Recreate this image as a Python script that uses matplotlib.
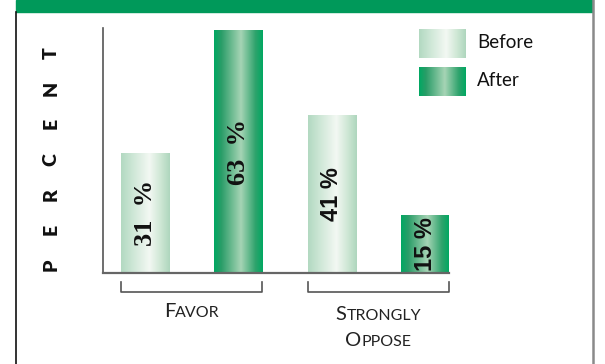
"""Favor / Strongly Oppose, before and after: green gradient bar chart."""

import matplotlib
matplotlib.use("Agg")
import matplotlib.pyplot as plt
import numpy as np
from matplotlib.colors import LinearSegmentedColormap
from matplotlib.lines import Line2D
from matplotlib.patches import Rectangle
from matplotlib.transforms import blended_transform_factory, offset_copy

# data
groups = [["Favor"], ["Strongly", "Oppose"]]
series = ["Before", "After"]
before = [31, 41]
after = [63, 15]

# style
W, H = 605, 364
BAND = "#00995a"
group_fonts = ["Liberation Serif", "Liberation Sans"]
group_sizes = [19, 17]
group_fmt = ["{}  %", "{} %"]
grad_before = LinearSegmentedColormap.from_list(
    "before", [(0, "#b2d9c1"), (0.3, "#d4eadb"), (0.58, "#f3f8f3"), (0.8, "#d0e8d6"), (1, "#aed6bd")])
grad_after = LinearSegmentedColormap.from_list(
    "after", [(0, "#00a862"), (0.15, "#2a9d68"), (0.55, "#a6d4b5"), (0.85, "#2ea36c"), (1, "#00a862")])
cmaps = [grad_before, grad_after]


def fig_rect(x0, y0, x1, y1):
    """Pixel box (top-left origin) -> figure fraction rect."""
    return [x0 / W, 1 - y1 / H, (x1 - x0) / W, (y1 - y0) / H]


def gradient(cmap):
    return cmap(np.linspace(0, 1, 256))[np.newaxis, :, :]


def smallcaps(ax, x, y, word, trans, big=14.5, small=11.5):
    """Centre a small-caps word at (x, y), baseline aligned."""
    renderer = ax.figure.canvas.get_renderer()
    pieces = [(word[0].upper(), big), (word[1:].upper(), small)]
    texts, widths = [], []
    for s, size in pieces:
        t = ax.text(x, y, s, fontsize=size, family="Lato", color="#222222",
                    ha="left", va="baseline", transform=trans, clip_on=False)
        texts.append(t)
        widths.append(t.get_window_extent(renderer).width)
    off = -sum(widths) / 2
    for t, w in zip(texts, widths):
        t.set_transform(offset_copy(trans, fig=ax.figure, x=off, units="dots"))
        off += w


fig = plt.figure(figsize=(W / 100, H / 100), dpi=100)

# page frame: green band on top, black rule left, grey rule right
fig.patches.append(Rectangle((16 / W, 1 - 12 / H), (592 - 16) / W, 12 / H,
                             transform=fig.transFigure, color=BAND, zorder=0))
fig.lines.append(Line2D([15.5 / W] * 2, [0, 1 - 12 / H], transform=fig.transFigure,
                        color="#111111", lw=1.2))
fig.lines.append(Line2D([592.5 / W] * 2, [0, 1], transform=fig.transFigure,
                        color="#8a8a8a", lw=1.8))

ax = fig.add_axes(fig_rect(103, 28, 449, 273))
width = 0.514
values = [before, after]
for gi in range(len(groups)):
    for si in range(len(series)):
        x = 2 * gi + si
        v = values[si][gi]
        bar = ax.bar(x, v, width, color="none", edgecolor="none")[0]
        ax.imshow(gradient(cmaps[si]), extent=[bar.get_x(), bar.get_x() + bar.get_width(), 0, v],
                  aspect="auto", zorder=2)
        ax.text(x, v / 2, group_fmt[gi].format(v), rotation=90, ha="center", va="center",
                fontsize=group_sizes[gi], fontweight="bold", fontfamily=group_fonts[gi],
                color="#111111", zorder=3)

ax.set_xlim(-0.45, 3.255)
ax.set_ylim(0, 63.6)
ax.set_xticks([])
ax.set_yticks([])
for side in ("top", "right"):
    ax.spines[side].set_visible(False)
ax.spines["left"].set_color("#555555")
ax.spines["left"].set_linewidth(1.2)
ax.spines["bottom"].set_color("#666666")
ax.spines["bottom"].set_linewidth(1.6)
ax.spines["bottom"].set_zorder(4)

# group brackets and small-caps labels
trans = blended_transform_factory(ax.transData, ax.transAxes)
line_y = [[-0.180], [-0.192, -0.298]]
for gi, words in enumerate(groups):
    x0 = 2 * gi - width / 2
    x1 = 2 * gi + 1 + width / 2
    ax.plot([x0, x0, x1, x1], [-0.037, -0.078, -0.078, -0.037], color="#555555",
            lw=1.2, transform=trans, clip_on=False)
    for word, y in zip(words, line_y[gi]):
        smallcaps(ax, 2 * gi + 0.5, y, word, trans)

# spaced vertical "PERCENT"
letters = "PERCENT"
for i, ch in enumerate(letters):
    fig.text(51 / W, 1 - (265 - i * 35.3) / H, ch, rotation=90, ha="center", va="center",
             fontsize=14, fontweight="heavy", family="Lato", color="#111111")

# legend
for si, name in enumerate(series):
    top = 29 + si * 38
    sw = fig.add_axes(fig_rect(419, top, 466, top + 29))
    sw.imshow(gradient(cmaps[si]), aspect="auto")
    sw.axis("off")
    fig.text(477 / W, 1 - (top + 14) / H, name, ha="left", va="center",
             fontsize=13.5, family="Lato", color="#111111")

fig.savefig("out.png", dpi=100)
